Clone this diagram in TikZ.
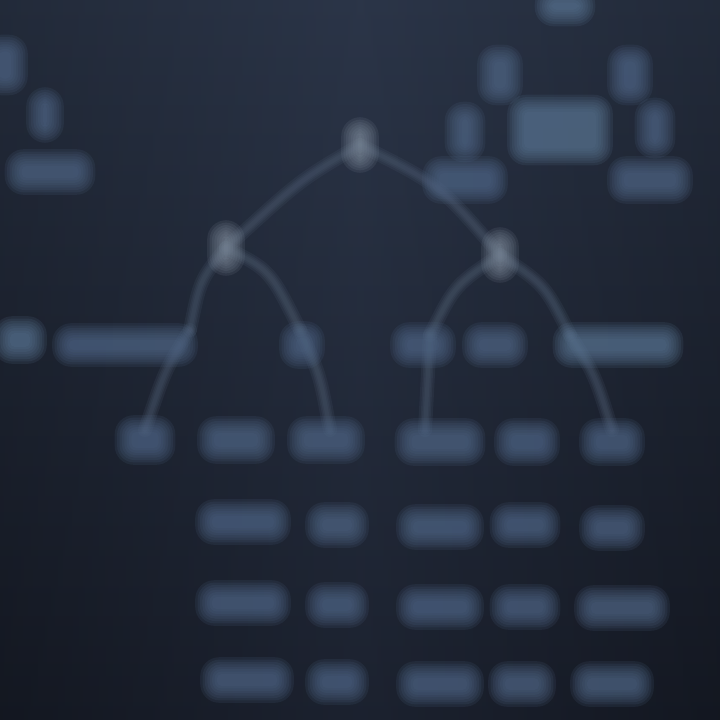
\documentclass[tikz,border=0pt]{standalone}
\usetikzlibrary{calc}
\definecolor{bgtop}{HTML}{2B3548}
\definecolor{bgbot}{HTML}{181D29}
\definecolor{blobc}{HTML}{52698A}
\definecolor{blobb}{HTML}{5C7896}
\definecolor{nodec}{HTML}{7F8C9C}
\definecolor{edgec}{HTML}{4E5D72}
\newcommand\softblob[5]{%
  \foreach \i in {0,...,7}{%
    \pgfmathsetmacro\ex{2.4*\i-9}%
    \pgfmathsetmacro\rr{5+2*\i}%
    \fill[#5, fill opacity=0.14, rounded corners=\rr pt]
      ({#1-#3/2-\ex},{#2-#4/2-\ex}) rectangle ({#1+#3/2+\ex},{#2+#4/2+\ex});
  }%
}
\tikzset{
  softedge/.style={edgec, line cap=round, draw opacity=0.17},
}
\newcommand\softline[1]{%
  \foreach \w in {14,10,7,4}{\draw[softedge, line width=\w pt] #1;}%
}
\begin{document}
\begin{tikzpicture}[x=1pt,y=-1pt]
\useasboundingbox (0,0) rectangle (720,720);
\shade[top color=bgtop, bottom color=bgbot] (0,0) rectangle (720,720);
\shade[left color=black, right color=black, middle color=bgtop, opacity=0.2] (0,0) rectangle (720,720);

% named coordinates for tree nodes
\coordinate (root) at (360,145);
\coordinate (L) at (226,248);
\coordinate (R) at (500,255);
\coordinate (La) at (190,330);
\coordinate (Lb) at (300,330);
\coordinate (Ra) at (430,335);
\coordinate (Rb) at (570,335);
\coordinate (Laa) at (145,430);
\coordinate (Lbb) at (330,430);
\coordinate (Raa) at (425,430);
\coordinate (Rbb) at (612,430);

% connectors
\softline{(root) .. controls (300,180) .. (L)}
\softline{(root) .. controls (440,185) .. (R)}
\softline{(L) .. controls (200,280) .. (La)}
\softline{(L) .. controls (270,270) .. (Lb)}
\softline{(La) .. controls (165,370) .. (Laa)}
\softline{(Lb) .. controls (320,375) .. (Lbb)}
\softline{(R) .. controls (455,285) .. (Ra)}
\softline{(R) .. controls (545,285) .. (Rb)}
\softline{(Ra) -- (Raa)}
\softline{(Rb) .. controls (595,375) .. (Rbb)}

% top-left cluster
\softblob{5}{65}{30}{45}{blobc}
\softblob{45}{115}{22}{40}{blobc}
\softblob{50}{172}{75}{30}{blobc}

% top-right cluster
\softblob{565}{6}{45}{25}{blobb}
\softblob{500}{75}{30}{45}{blobc}
\softblob{630}{75}{30}{45}{blobc}
\softblob{465}{132}{25}{45}{blobc}
\softblob{560}{130}{90}{55}{blobb}
\softblob{655}{128}{25}{45}{blobc}
\softblob{465}{180}{70}{32}{blobc}
\softblob{650}{180}{70}{32}{blobc}

% tree nodes
\softblob{360}{145}{22}{40}{nodec}
\softblob{226}{248}{22}{40}{nodec}
\softblob{500}{255}{22}{40}{nodec}

% row 1
\softblob{20}{340}{38}{32}{blobb}
\softblob{125}{345}{130}{28}{blobc}
\softblob{302}{345}{30}{32}{blobc}
\softblob{423}{345}{50}{30}{blobc}
\softblob{495}{345}{50}{30}{blobc}
\softblob{618}{345}{115}{30}{blobb}

% row 2
\softblob{145}{440}{45}{34}{blobc}
\softblob{236}{440}{62}{32}{blobc}
\softblob{326}{440}{62}{32}{blobc}
\softblob{440}{442}{75}{32}{blobc}
\softblob{527}{442}{50}{32}{blobc}
\softblob{612}{442}{50}{32}{blobc}

% row 3
\softblob{243}{522}{80}{30}{blobc}
\softblob{337}{525}{48}{30}{blobc}
\softblob{440}{527}{72}{30}{blobc}
\softblob{525}{525}{55}{30}{blobc}
\softblob{612}{528}{50}{30}{blobc}

% row 4
\softblob{243}{603}{80}{30}{blobc}
\softblob{337}{605}{48}{30}{blobc}
\softblob{440}{607}{72}{30}{blobc}
\softblob{525}{607}{55}{30}{blobc}
\softblob{622}{608}{80}{30}{blobc}

% row 5
\softblob{247}{680}{78}{30}{blobc}
\softblob{337}{682}{48}{30}{blobc}
\softblob{440}{684}{72}{30}{blobc}
\softblob{522}{684}{52}{30}{blobc}
\softblob{612}{684}{68}{30}{blobc}
\end{tikzpicture}
\end{document}
